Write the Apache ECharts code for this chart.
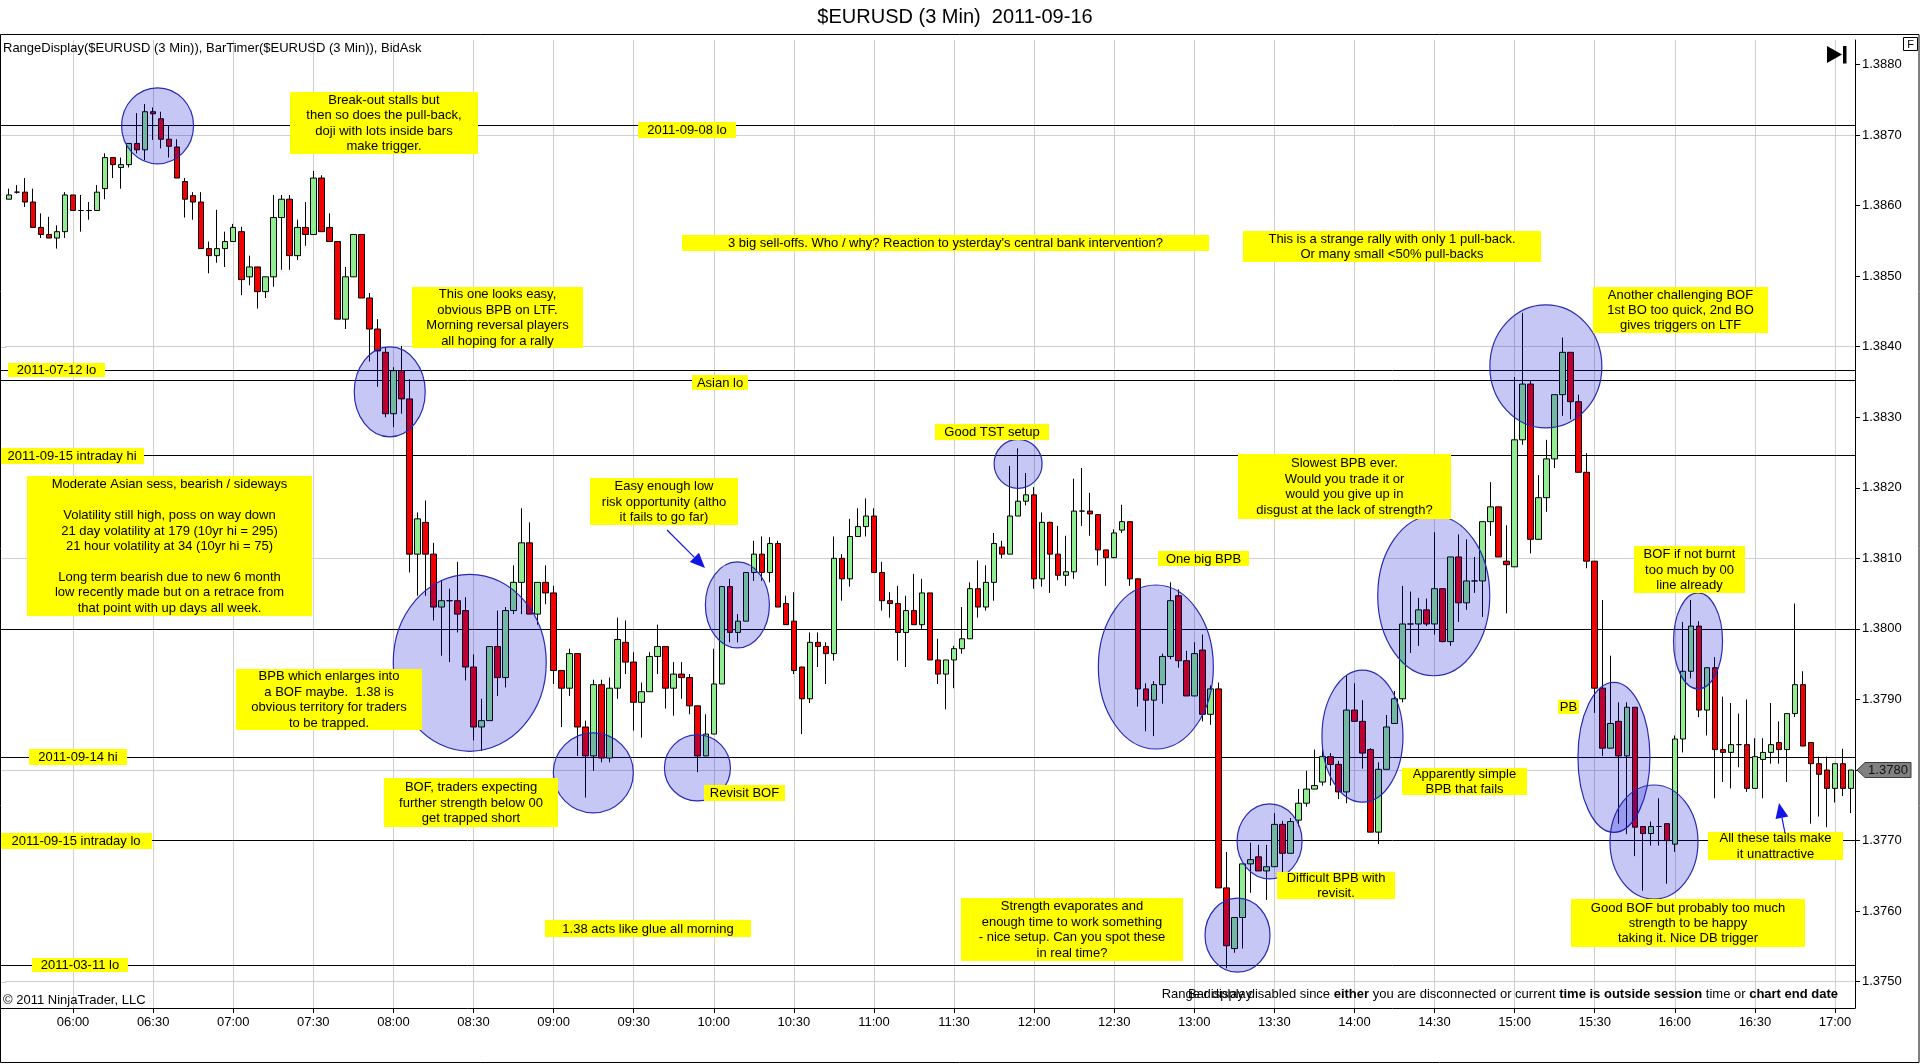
<!DOCTYPE html>
<html>
<head>
<meta charset="utf-8">
<script src="https://cdn.jsdelivr.net/npm/echarts@6/dist/echarts.min.js"></script>
<style>
html,body{margin:0;padding:0;background:#ffffff;}
#chart{width:1920px;height:1064px;}
</style>
</head>
<body>
<div id="chart"></div>
<script>
// ---------------- DATA ----------------
const startMinutes = 5 * 60 + 36;   // first bar 05:36
const barMinutes = 3;

const opens = [
1.38609,1.38619,1.38619,1.38605,1.38569,1.38559,1.38554,1.38563,1.38615,1.38593,
1.38593,1.38593,1.38624,1.38668,1.38654,1.38658,1.38688,1.38679,1.38733,1.38723,
1.38694,1.38683,1.38634,1.38614,1.38605,1.38539,1.38529,1.38539,1.38549,1.38563,
1.38499,1.38513,1.38478,1.38499,1.38583,1.38609,1.38529,1.38569,1.38559,1.38639,
1.38569,1.38549,1.38439,1.38499,1.38559,1.38469,1.38425,1.38392,1.38305,1.38366,
1.38326,1.38106,1.38151,1.38106,1.38031,1.38040,1.38040,1.38026,1.37946,1.37861,
1.37870,1.37975,1.37931,1.38026,1.38066,1.38122,1.38021,1.38066,1.38051,1.37941,
1.37916,1.37965,1.37861,1.37820,1.37921,1.37817,1.37916,1.37981,1.37953,1.37896,
1.37911,1.37961,1.37975,1.37916,1.37936,1.37931,1.37891,1.37820,1.37851,1.37922,
1.38060,1.37995,1.38011,1.38080,1.38106,1.38080,1.38121,1.38036,1.38011,1.37946,
1.37901,1.37981,1.37975,1.37965,1.38100,1.38071,1.38131,1.38145,1.38160,1.38080,
1.38040,1.38036,1.37995,1.38026,1.38006,1.38051,1.37956,1.37936,1.37956,1.37972,
1.37986,1.38057,1.38031,1.38066,1.38116,1.38106,1.38160,1.38181,1.38190,1.38071,
1.38151,1.38106,1.38076,1.38081,1.38167,1.38167,1.38162,1.38112,1.38101,1.38140,
1.38152,1.38071,1.37915,1.37899,1.37921,1.37961,1.38047,1.37955,1.37905,1.37970,
1.37879,1.37915,1.37633,1.37547,1.37591,1.37667,1.37677,1.37657,1.37663,1.37723,
1.37682,1.37729,1.37753,1.37773,1.37783,1.37819,1.37808,1.37769,1.37885,1.37869,
1.37829,1.37712,1.37801,1.37866,1.37901,1.38007,1.38007,1.38027,1.38007,1.38057,
1.37982,1.38102,1.38037,1.38068,1.38068,1.38152,1.38173,1.38096,1.38088,1.38268,
1.38347,1.38127,1.38186,1.38241,1.38332,1.38392,1.38322,1.38222,1.38096,1.37916,
1.37831,1.37869,1.37820,1.37889,1.37720,1.37710,1.37720,1.37724,1.37695,1.37844,
1.37940,1.38004,1.37885,1.37945,1.37829,1.37825,1.37836,1.37836,1.37774,1.37815,
1.37825,1.37839,1.37829,1.37880,1.37921,1.37839,1.37809,1.37800,1.37774,1.37809,
1.37774
];
const highs = [
1.38624,1.38629,1.38639,1.38624,1.38589,1.38584,1.38572,1.38619,1.38615,1.38615,
1.38605,1.38629,1.38674,1.38668,1.38668,1.38688,1.38731,1.38744,1.38739,1.38733,
1.38713,1.38694,1.38639,1.38619,1.38619,1.38549,1.38594,1.38563,1.38574,1.38570,
1.38529,1.38513,1.38499,1.38615,1.38615,1.38615,1.38580,1.38605,1.38649,1.38643,
1.38589,1.38549,1.38513,1.38559,1.38559,1.38476,1.38439,1.38399,1.38371,1.38401,
1.38354,1.38165,1.38182,1.38122,1.38068,1.38057,1.38095,1.38045,1.37964,1.37901,
1.37975,1.38026,1.38031,1.38090,1.38171,1.38151,1.38066,1.38090,1.38061,1.37941,
1.37972,1.37965,1.37870,1.37928,1.37928,1.37931,1.38016,1.38012,1.37967,1.37924,
1.37967,1.38006,1.37975,1.37953,1.37953,1.37936,1.37891,1.37879,1.37972,1.38061,
1.38071,1.38021,1.38080,1.38125,1.38131,1.38130,1.38125,1.38047,1.38052,1.37946,
1.37995,1.37995,1.37981,1.38131,1.38106,1.38156,1.38171,1.38185,1.38171,1.38095,
1.38052,1.38061,1.38047,1.38078,1.38071,1.38051,1.37986,1.37956,1.37976,1.38031,
1.38066,1.38097,1.38090,1.38136,1.38125,1.38231,1.38256,1.38221,1.38201,1.38165,
1.38152,1.38146,1.38132,1.38213,1.38228,1.38193,1.38162,1.38112,1.38141,1.38176,
1.38152,1.38071,1.37923,1.37926,1.37965,1.38066,1.38056,1.37969,1.37981,1.37992,
1.37920,1.37924,1.37684,1.37591,1.37667,1.37697,1.37694,1.37694,1.37739,1.37728,
1.37732,1.37773,1.37799,1.37829,1.37829,1.37824,1.37813,1.37934,1.37923,1.37899,
1.37831,1.37811,1.37878,1.37912,1.38061,1.38053,1.38044,1.38043,1.38137,1.38057,
1.38102,1.38134,1.38127,1.38102,1.38152,1.38208,1.38173,1.38147,1.38357,1.38448,
1.38352,1.38218,1.38268,1.38332,1.38413,1.38392,1.38332,1.38249,1.38096,1.38041,
1.37962,1.37896,1.37896,1.37889,1.37720,1.37727,1.37760,1.37724,1.37849,1.38010,
1.38041,1.38011,1.37945,1.37960,1.37904,1.37895,1.37880,1.37900,1.37845,1.37845,
1.37895,1.37869,1.37880,1.38036,1.37940,1.37839,1.37819,1.37819,1.37809,1.37830,
1.37800
];
const lows = [
1.38609,1.38617,1.38598,1.38569,1.38554,1.38554,1.38539,1.38554,1.38593,1.38563,
1.38580,1.38593,1.38609,1.38639,1.38624,1.38654,1.38674,1.38664,1.38693,1.38681,
1.38668,1.38639,1.38583,1.38580,1.38539,1.38504,1.38519,1.38513,1.38549,1.38473,
1.38487,1.38454,1.38469,1.38485,1.38509,1.38509,1.38523,1.38543,1.38559,1.38563,
1.38549,1.38439,1.38425,1.38499,1.38469,1.38379,1.38343,1.38300,1.38286,1.38305,
1.38080,1.38047,1.38047,1.38012,1.37962,1.37953,1.37995,1.37927,1.37842,1.37827,
1.37870,1.37905,1.37917,1.38021,1.38021,1.38021,1.38006,1.38035,1.37922,1.37861,
1.37905,1.37820,1.37761,1.37799,1.37811,1.37811,1.37901,1.37936,1.37856,1.37846,
1.37911,1.37936,1.37887,1.37877,1.37901,1.37879,1.37797,1.37820,1.37851,1.37922,
1.37981,1.37981,1.38011,1.38068,1.38068,1.38066,1.38031,1.38006,1.37936,1.37851,
1.37895,1.37946,1.37922,1.37955,1.38040,1.38060,1.38131,1.38131,1.38080,1.38026,
1.38016,1.37955,1.37946,1.38006,1.38000,1.37956,1.37922,1.37886,1.37916,1.37965,
1.37986,1.38016,1.38026,1.38040,1.38100,1.38106,1.38160,1.38175,1.38057,1.38060,
1.38051,1.38069,1.38061,1.38071,1.38146,1.38132,1.38090,1.38061,1.38101,1.38136,
1.38061,1.37890,1.37855,1.37848,1.37894,1.37957,1.37945,1.37905,1.37905,1.37869,
1.37864,1.37633,1.37519,1.37541,1.37547,1.37626,1.37657,1.37616,1.37663,1.37655,
1.37682,1.37720,1.37748,1.37773,1.37778,1.37778,1.37759,1.37753,1.37869,1.37802,
1.37712,1.37695,1.37801,1.37866,1.37896,1.37966,1.37976,1.38004,1.37992,1.37981,
1.37976,1.38010,1.38027,1.38051,1.38017,1.38132,1.38102,1.38022,1.38088,1.38261,
1.38107,1.38127,1.38166,1.38228,1.38302,1.38297,1.38222,1.38086,1.37881,1.37820,
1.37831,1.37724,1.37709,1.37678,1.37629,1.37693,1.37693,1.37639,1.37684,1.37825,
1.37930,1.37875,1.37849,1.37760,1.37783,1.37774,1.37804,1.37769,1.37774,1.37760,
1.37809,1.37809,1.37783,1.37875,1.37834,1.37724,1.37734,1.37719,1.37754,1.37763,
1.37739
];
const closes = [
1.38615,1.38619,1.38605,1.38569,1.38559,1.38554,1.38563,1.38615,1.38593,1.38593,
1.38593,1.38619,1.38668,1.38658,1.38658,1.38688,1.38679,1.38733,1.38730,1.38694,
1.38684,1.38639,1.38609,1.38605,1.38539,1.38529,1.38539,1.38549,1.38569,1.38495,
1.38513,1.38478,1.38499,1.38583,1.38609,1.38529,1.38569,1.38559,1.38639,1.38563,
1.38549,1.38439,1.38499,1.38559,1.38469,1.38425,1.38394,1.38305,1.38366,1.38326,
1.38106,1.38156,1.38106,1.38031,1.38040,1.38040,1.38021,1.37946,1.37861,1.37870,
1.37975,1.37931,1.38026,1.38066,1.38122,1.38021,1.38066,1.38051,1.37941,1.37916,
1.37965,1.37861,1.37820,1.37921,1.37817,1.37916,1.37985,1.37953,1.37896,1.37911,
1.37961,1.37975,1.37916,1.37936,1.37931,1.37891,1.37820,1.37851,1.37922,1.38060,
1.37995,1.38011,1.38080,1.38106,1.38080,1.38121,1.38031,1.38006,1.37941,1.37901,
1.37981,1.37975,1.37965,1.38100,1.38071,1.38131,1.38145,1.38160,1.38080,1.38040,
1.38036,1.37995,1.38026,1.38006,1.38051,1.37956,1.37936,1.37956,1.37972,1.37986,
1.38057,1.38031,1.38066,1.38121,1.38106,1.38160,1.38181,1.38190,1.38071,1.38151,
1.38106,1.38076,1.38081,1.38167,1.38167,1.38163,1.38112,1.38101,1.38136,1.38152,
1.38071,1.37915,1.37899,1.37921,1.37961,1.38040,1.37955,1.37905,1.37965,1.37879,
1.37915,1.37633,1.37551,1.37591,1.37667,1.37673,1.37657,1.37663,1.37723,1.37682,
1.37727,1.37753,1.37773,1.37778,1.37819,1.37808,1.37769,1.37885,1.37869,1.37824,
1.37712,1.37801,1.37861,1.37901,1.38007,1.38007,1.38027,1.38007,1.38057,1.37982,
1.38102,1.38037,1.38068,1.38068,1.38152,1.38173,1.38102,1.38091,1.38268,1.38347,
1.38127,1.38186,1.38241,1.38332,1.38392,1.38322,1.38222,1.38096,1.37916,1.37831,
1.37866,1.37820,1.37889,1.37719,1.37710,1.37720,1.37720,1.37700,1.37844,1.37940,
1.38004,1.37885,1.37945,1.37829,1.37825,1.37836,1.37836,1.37774,1.37819,1.37825,
1.37836,1.37829,1.37880,1.37921,1.37834,1.37809,1.37794,1.37774,1.37809,1.37774,
1.37800
];

const timeTicks = ['06:00','06:30','07:00','07:30','08:00','08:30','09:00','09:30','10:00','10:30',
  '11:00','11:30','12:00','12:30','13:00','13:30','14:00','14:30','15:00','15:30','16:00','16:30','17:00'];
const priceTicks = [1.375,1.376,1.377,1.378,1.379,1.380,1.381,1.382,1.383,1.384,1.385,1.386,1.387,1.388];
const gridPrices = [1.375,1.378,1.381,1.384,1.387];

const levelNames  = ['2011-09-08 lo','2011-07-12 lo','Asian lo','2011-09-15 intraday hi','','2011-09-14 hi','2011-09-15 intraday lo','2011-03-11 lo'];
const levelPrices = [1.38714, 1.38367, 1.38353, 1.38246, 1.3800, 1.37818, 1.37700, 1.37523];

// circled areas: bar index (fractional) and price of the centre
const circleBars   = [18.55, 47.54, 57.53, 72.96, 85.96, 90.95, 126.0, 143.2, 153.4, 157.4, 169.0, 177.9, 191.9, 200.4, 205.4, 210.9];
const circlePrices = [1.38713,1.38336,1.37952,1.37796,1.37803,1.38034,1.38234,1.37946,1.37566,1.37699,1.37848,1.38047,1.38372,1.37818,1.37698,1.37983];

// ---------------- BUILD ----------------
const FONT = '"Liberation Sans", Arial, Helvetica, sans-serif';
const categories = opens.map((_, i) => {
  const m = startMinutes + i * barMinutes;
  return String(Math.floor(m / 60)).padStart(2, '0') + ':' + String(m % 60).padStart(2, '0');
});
const candles = opens.map((o, i) => [o, closes[i], lows[i], highs[i]]);
const isTick = (idx, val) => timeTicks.indexOf(val) >= 0;

const GRID_TOP = 40, GRID_BOTTOM_Y = 1008, GRID_LEFT = 5;
const PX_PER_UNIT = 70560;
const yMax = 1.3870 + (135 - GRID_TOP) / PX_PER_UNIT;
const yMin = yMax - (GRID_BOTTOM_Y - GRID_TOP) / PX_PER_UNIT;

const chart = echarts.init(document.getElementById('chart'), null, {renderer: 'canvas'});

const option = {
  animation: false,
  backgroundColor: '#ffffff',
  grid: {left: GRID_LEFT, right: 65, top: GRID_TOP, bottom: 1064 - GRID_BOTTOM_Y, containLabel: false},
  xAxis: {
    type: 'category', data: categories, boundaryGap: true,
    axisLine: {show: true, lineStyle: {color: '#000', width: 1}},
    axisTick: {show: true, interval: isTick, alignWithLabel: true, length: 5, lineStyle: {color: '#000'}},
    axisLabel: {interval: isTick, color: '#000', fontSize: 13, fontFamily: FONT, margin: 8},
    splitLine: {show: false}
  },
  yAxis: {
    type: 'value', position: 'right', min: yMin, max: yMax, scale: true,
    axisLine: {show: true, lineStyle: {color: '#000', width: 1}},
    axisTick: {show: true, length: 5, customValues: priceTicks, lineStyle: {color: '#000'}},
    axisLabel: {customValues: priceTicks, formatter: v => v.toFixed(4), color: '#000', fontSize: 13, fontFamily: FONT, margin: 7},
    splitLine: {show: false}
  },
  series: [
    {
      name: 'grid', type: 'line', data: [], silent: true, z: 1,
      markLine: {
        z: 1, silent: true, symbol: 'none', animation: false, precision: 6,
        label: {show: false},
        lineStyle: {color: '#cfcfcf', width: 1, type: 'solid'},
        emphasis: {disabled: true},
        data: timeTicks.map(t => ({xAxis: t})).concat(gridPrices.map(p => ({yAxis: p})))
      }
    },
    {
      name: 'levels', type: 'line', data: [], silent: true, z: 2,
      markLine: {
        z: 2, silent: true, symbol: 'none', animation: false, precision: 6,
        label: {show: false},
        lineStyle: {color: '#000', width: 1, type: 'solid'},
        emphasis: {disabled: true},
        data: levelPrices.map(p => ({yAxis: p}))
      }
    },
    {
      name: '$EURUSD', type: 'candlestick', data: candles, z: 4, barWidth: 6,
      itemStyle: {
        color: '#90ee90', color0: '#f40000',
        borderColor: '#000', borderColor0: '#000', borderColorDoji: '#000', borderWidth: 1
      },
      emphasis: {disabled: true}
    }
  ]
};
chart.setOption(option);

// ---------------- ANNOTATIONS ----------------
function px(i, p) {
  const i0 = Math.floor(i), f = i - i0;
  const a = chart.convertToPixel({gridIndex: 0}, [i0, p]);
  if (f === 0) return a;
  const b = chart.convertToPixel({gridIndex: 0}, [i0 + 1, p]);
  return [a[0] + f * (b[0] - a[0]), a[1]];
}

const circleRadii = [[36,38],[35.5,45],[76.5,88.5],[40,40],[33,33],[32,43],[24,24.5],[57.5,82],[32.5,37],[32.5,37.5],[40.5,66],[56,80],[56,61.5],[36,75],[44,57],[24.5,48]];

const notes = [
  ['Break-out stalls but\nthen so does the pull-back,\ndoji with lots inside bars\nmake trigger.', 290, 92, 478, 154],
  ['3 big sell-offs. Who / why? Reaction to ysterday\'s central bank intervention?', 682, 235, 1209, 251],
  ['This is a strange rally with only 1 pull-back.\nOr many small <50% pull-backs', 1243, 231, 1541, 262],
  ['This one looks easy,\nobvious BPB on LTF.\nMorning reversal players\nall hoping for a rally', 412, 287, 583, 348],
  ['Another challenging BOF\n1st BO too quick, 2nd BO\ngives triggers on LTF', 1593, 287, 1768, 333],
  ['Good TST setup', 935, 424, 1049, 440],
  ['Moderate Asian sess, bearish / sideways\n\nVolatility still high, poss on way down\n21 day volatility at 179 (10yr hi = 295)\n21 hour volatility at 34 (10yr hi = 75)\n\nLong term bearish due to new 6 month\nlow recently made but on a retrace from\nthat point with up days all week.', 27, 476, 312, 616],
  ['Easy enough low\nrisk opportunity (altho\nit fails to go far)', 590, 478, 738, 525],
  ['Slowest BPB ever.\nWould you trade it or\nwould you give up in\ndisgust at the lack of strength?', 1238, 454, 1451, 519],
  ['One big BPB', 1158, 551, 1249, 566],
  ['BOF if not burnt\ntoo much by 00\nline already', 1634, 546, 1745, 593],
  ['BPB which enlarges into\na BOF maybe.  1.38 is\nobvious territory for traders\nto be trapped.', 236, 669, 422, 730],
  ['PB', 1558, 700, 1579, 714],
  ['BOF, traders expecting\nfurther strength below 00\nget trapped short', 384, 778, 558, 827],
  ['Revisit BOF', 704, 785, 785, 801],
  ['Apparently simple\nBPB that fails', 1402, 768, 1527, 795],
  ['All these tails make\nit unattractive', 1708, 832, 1843, 860],
  ['Difficult BPB with\nrevisit.', 1277, 872, 1395, 899],
  ['Strength evaporates and\nenough time to work something\n- nice setup. Can you spot these\nin real time?', 961, 898, 1183, 961],
  ['1.38 acts like glue all morning', 545, 920, 751, 937],
  ['Good BOF but probably too much\nstrength to be happy\ntaking it. Nice DB trigger', 1571, 899, 1805, 947]
];

const levelBoxes = [
  [638, 122, 736, 138],
  [8, 363, 105, 377],
  [692, 375, 748, 390],
  [0, 448, 144, 464],
  null,
  [29, 749, 127, 765],
  [0, 833, 152, 849],
  [32, 958, 128, 972]
];

const arrows = [[667, 530, 705, 568], [1785, 833, 1779, 803]];

const els = [];
function textEl(text, x, y, opts) {
  return Object.assign({
    type: 'text', x: x, y: y, silent: true, z: 12,
    style: Object.assign({text: text, fill: '#000', fontSize: 13, fontFamily: FONT, align: 'center', verticalAlign: 'middle', lineHeight: 15.4}, (opts && opts.style) || {})
  }, (opts && opts.el) || {});
}

// frame and chrome
els.push({type: 'rect', shape: {x: 0.5, y: 34.5, width: 1918.5, height: 1028}, style: {fill: 'none', stroke: '#000', lineWidth: 1}, z: 20, silent: true});
els.push({type: 'line', shape: {x1: 0, y1: GRID_BOTTOM_Y + 0.5, x2: GRID_LEFT + 1, y2: GRID_BOTTOM_Y + 0.5}, style: {stroke: '#000', lineWidth: 1}, z: 20, silent: true});
// extend horizontal lines to the left frame edge
gridPrices.forEach(p => {
  const y = Math.round(chart.convertToPixel({yAxisIndex: 0}, p)) + 0.5;
  els.push({type: 'line', shape: {x1: 0, y1: y, x2: GRID_LEFT + 1, y2: y}, style: {stroke: '#cfcfcf', lineWidth: 1}, z: 1, silent: true});
});
levelPrices.forEach(p => {
  const y = Math.round(chart.convertToPixel({yAxisIndex: 0}, p)) + 0.5;
  els.push({type: 'line', shape: {x1: 0, y1: y, x2: GRID_LEFT + 1, y2: y}, style: {stroke: '#000', lineWidth: 1}, z: 2, silent: true});
});
els.push(textEl('$EURUSD (3 Min)  2011-09-16', 955, 17, {style: {fontSize: 20}}));
els.push(textEl('RangeDisplay($EURUSD (3 Min)), BarTimer($EURUSD (3 Min)), BidAsk', 3, 48, {style: {align: 'left'}}));
els.push(textEl('\u00a9 2011 NinjaTrader, LLC', 3, 1000, {style: {align: 'left'}}));
els.push(textEl('Range display disabled since {b|either} you are disconnected or current {b|time is outside session} time or {b|chart end date}', 1838, 994, {
  style: {align: 'right', rich: {b: {fontWeight: 'bold', fontSize: 13, fontFamily: FONT, fill: '#000'}}}
}));
els.push(textEl('Bar display', 1188, 994, {style: {align: 'left'}}));
// "F" box and go-to-end icon
els.push({type: 'rect', shape: {x: 1903.5, y: 37.5, width: 14, height: 13}, style: {fill: '#fff', stroke: '#000', lineWidth: 1}, z: 20, silent: true});
els.push(textEl('F', 1910.5, 44.5, {style: {fontSize: 11}, el: {z: 21}}));
els.push({type: 'polygon', shape: {points: [[1827, 46], [1827, 63], [1842, 54.5]]}, style: {fill: '#000'}, z: 20, silent: true});
els.push({type: 'rect', shape: {x: 1843, y: 46, width: 3.5, height: 17.5}, style: {fill: '#000'}, z: 20, silent: true});

// level labels
levelBoxes.forEach((b, k) => {
  if (!b) return;
  els.push({type: 'rect', shape: {x: b[0], y: b[1], width: b[2] - b[0], height: b[3] - b[1]}, style: {fill: '#ffff00'}, z: 3, silent: true});
  els.push(textEl(levelNames[k], (b[0] + b[2]) / 2, (b[1] + b[3]) / 2 + 0.5, {el: {z: 3.5}}));
});

// circles
circleBars.forEach((bi, k) => {
  const c = px(bi, circlePrices[k]);
  els.push({type: 'ellipse', shape: {cx: c[0], cy: c[1], rx: circleRadii[k][0], ry: circleRadii[k][1]},
    style: {fill: 'rgba(0,0,209,0.22)', stroke: '#2a2ab8', lineWidth: 1.2}, z: 10, silent: true});
});

// note boxes
notes.forEach(n => {
  els.push({type: 'rect', shape: {x: n[1], y: n[2], width: n[3] - n[1], height: n[4] - n[2]}, style: {fill: '#ffff00'}, z: 11, silent: true});
  els.push(textEl(n[0], (n[1] + n[3]) / 2, (n[2] + n[4]) / 2 + 0.5));
});

// arrows
arrows.forEach(a => {
  const dx = a[2] - a[0], dy = a[3] - a[1], len = Math.hypot(dx, dy);
  const ux = dx / len, uy = dy / len, hl = 15, hw = 6.5;
  const bx = a[2] - ux * hl, by = a[3] - uy * hl;
  els.push({type: 'line', shape: {x1: a[0], y1: a[1], x2: bx, y2: by}, style: {stroke: '#1414e6', lineWidth: 1.2}, z: 12, silent: true});
  els.push({type: 'polygon', shape: {points: [[a[2], a[3]], [bx - uy * hw, by + ux * hw], [bx + uy * hw, by - ux * hw]]}, style: {fill: '#1414e6'}, z: 12, silent: true});
});

// last price marker on the axis
const lastClose = closes[closes.length - 1];
const ly = chart.convertToPixel({yAxisIndex: 0}, lastClose);
els.push({type: 'polygon', shape: {points: [[1857, ly], [1865, ly - 7.5], [1911, ly - 7.5], [1911, ly + 7.5], [1865, ly + 7.5]]},
  style: {fill: '#808080', stroke: '#3a3a3a', lineWidth: 1}, z: 20, silent: true});
els.push(textEl(lastClose.toFixed(4), 1888, ly + 0.5, {style: {fill: '#111'}, el: {z: 21}}));

chart.setOption({graphic: {elements: els}});
</script>
</body>
</html>
